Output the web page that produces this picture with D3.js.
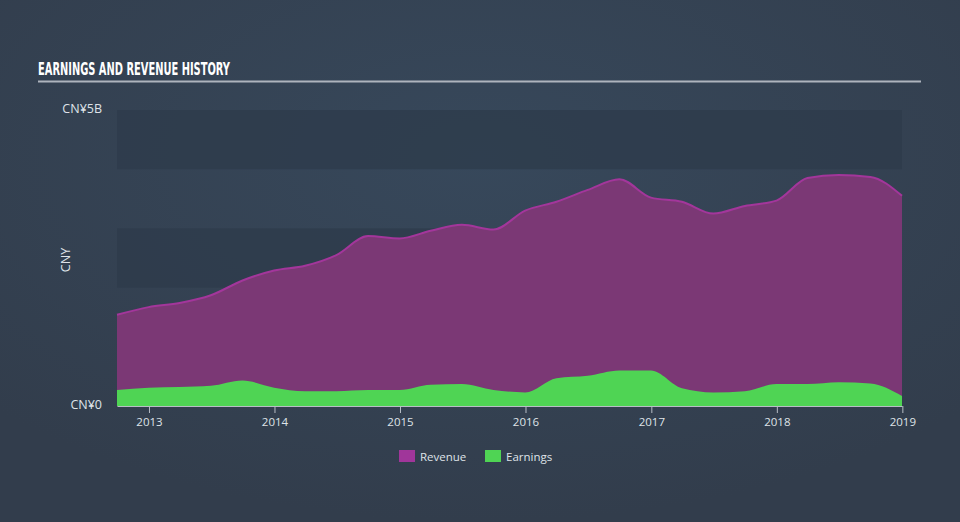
<!DOCTYPE html>
<html><head><meta charset="utf-8">
<script src="https://cdn.jsdelivr.net/npm/d3@7"></script>
<style>
html,body{margin:0;padding:0;background:#333f4f;}
svg{display:block;}
</style></head>
<body>
<svg id="chart" width="960" height="522"></svg>
<script>
const dates = ["2012-09-30","2012-12-31","2013-03-31","2013-06-30","2013-09-30","2013-12-31",
  "2014-03-31","2014-06-30","2014-09-30","2014-12-31","2015-03-31","2015-06-30","2015-09-30","2015-12-31",
  "2016-03-31","2016-06-30","2016-09-30","2016-12-31","2017-03-31","2017-06-30","2017-09-30","2017-12-31",
  "2018-03-31","2018-06-30","2018-09-30","2018-12-31"];
const revenue = [1.54,1.67,1.74,1.87,2.12,2.29,2.37,2.55,2.87,2.83,2.96,3.06,2.98,3.30,
  3.45,3.65,3.83,3.52,3.45,3.25,3.38,3.47,3.85,3.90,3.87,3.55];
const earnings = [0.27,0.31,0.32,0.34,0.43,0.31,0.25,0.25,0.27,0.27,0.36,0.37,0.27,0.23,
  0.47,0.51,0.60,0.60,0.30,0.23,0.25,0.37,0.37,0.40,0.38,0.17];
const yTickLabels = ["CN¥0","CN¥5B"];
const xTickYears = [2013,2014,2015,2016,2017,2018,2019];
const seriesNames = ["Revenue","Earnings"];
const seriesColors = ["#a0369a","#4fd454"];

(function(){
const svg = d3.select("#chart");
const W = 960, H = 522;
const defs = svg.append("defs");
const rg = defs.append("radialGradient").attr("id","bg").attr("cx","50%").attr("cy","30%").attr("r","70%");
rg.append("stop").attr("offset","0%").attr("stop-color","#37485b");
rg.append("stop").attr("offset","100%").attr("stop-color","#323d4c");
svg.append("rect").attr("width",W).attr("height",H).attr("fill","url(#bg)");

const parse = d3.timeParse("%Y-%m-%d");
const data = dates.map((d,i)=>({date:parse(d), rev:revenue[i], earn:earnings[i]}));

const mLeft = 117, mRight = 902, mTop = 110, mBottom = 406;
const x = d3.scaleTime().domain([data[0].date, data[data.length-1].date]).range([mLeft,mRight]);
const y = d3.scaleLinear().domain([0,5]).range([mBottom, mTop]);

// bands
[[5,4],[3,2],[1,0]].forEach(([a,b])=>{
  svg.append("rect").attr("x",mLeft).attr("width",mRight-mLeft)
    .attr("y",y(a)).attr("height",y(b)-y(a)).attr("fill","#2e3b4b").attr("opacity",0.75);
});

// title
svg.append("text").attr("x",38).attr("y",75).text("EARNINGS AND REVENUE HISTORY")
  .attr("fill","#ffffff").attr("font-family","'DejaVu Sans Condensed','DejaVu Sans',sans-serif")
  .attr("font-weight","bold").attr("font-size",18)
  .attr("textLength",192).attr("lengthAdjust","spacingAndGlyphs");
svg.append("line").attr("x1",38).attr("x2",921).attr("y1",81.5).attr("y2",81.5)
  .attr("stroke","#aeb4bd").attr("stroke-width",2);

const curve = d3.curveMonotoneX;
const areaRev = d3.area().x(d=>x(d.date)).y0(y(0)).y1(d=>y(d.rev)).curve(curve);
const lineRev = d3.line().x(d=>x(d.date)).y(d=>y(d.rev)).curve(curve);
const areaEarn = d3.area().x(d=>x(d.date)).y0(y(0)).y1(d=>y(d.earn)).curve(curve);

svg.append("path").datum(data).attr("d",areaRev).attr("fill","#7b3875");
svg.append("path").datum(data).attr("d",lineRev).attr("fill","none").attr("stroke","#a3369b").attr("stroke-width",2);
svg.append("path").datum(data).attr("d",areaEarn).attr("fill","#4fd454");

// x axis
const xAxis = d3.axisBottom(x).tickValues(xTickYears.map(yr=>new Date(yr,0,1)))
  .tickFormat(d3.timeFormat("%Y")).tickSize(7).tickSizeOuter(0);
const gx = svg.append("g").attr("transform",`translate(0,${mBottom})`).call(xAxis);
gx.select(".domain").attr("stroke","#b8bec6").attr("stroke-width",1);
gx.selectAll(".tick line").attr("stroke","#b8bec6");
gx.selectAll("text").attr("fill","#dfe3e8").attr("font-family","'Open Sans',sans-serif").attr("font-size",11.5).attr("dy","0.9em");

// y labels
const yVals = [0,5];
svg.selectAll(".ylab").data(yVals).enter().append("text")
  .attr("x",102).attr("y",d=>y(d)+3).attr("text-anchor","end")
  .attr("fill","#dfe3e8").attr("font-family","'Open Sans',sans-serif").attr("font-size",12.5)
  .text((d,i)=>yTickLabels[i]);
svg.append("text").attr("transform","translate(70,260) rotate(-90)").attr("text-anchor","middle")
  .attr("fill","#dfe3e8").attr("font-family","'Open Sans',sans-serif").attr("font-size",12.5).text("CNY");

// legend
const legX = [399,485];
seriesNames.forEach((n,i)=>{
  svg.append("rect").attr("x",legX[i]).attr("y",450).attr("width",16).attr("height",12).attr("fill",seriesColors[i]);
  svg.append("text").attr("x",legX[i]+21).attr("y",460.5).text(n)
    .attr("fill","#dfe3e8").attr("font-family","'Open Sans',sans-serif").attr("font-size",11.5);
});
})();
</script>
</body></html>
